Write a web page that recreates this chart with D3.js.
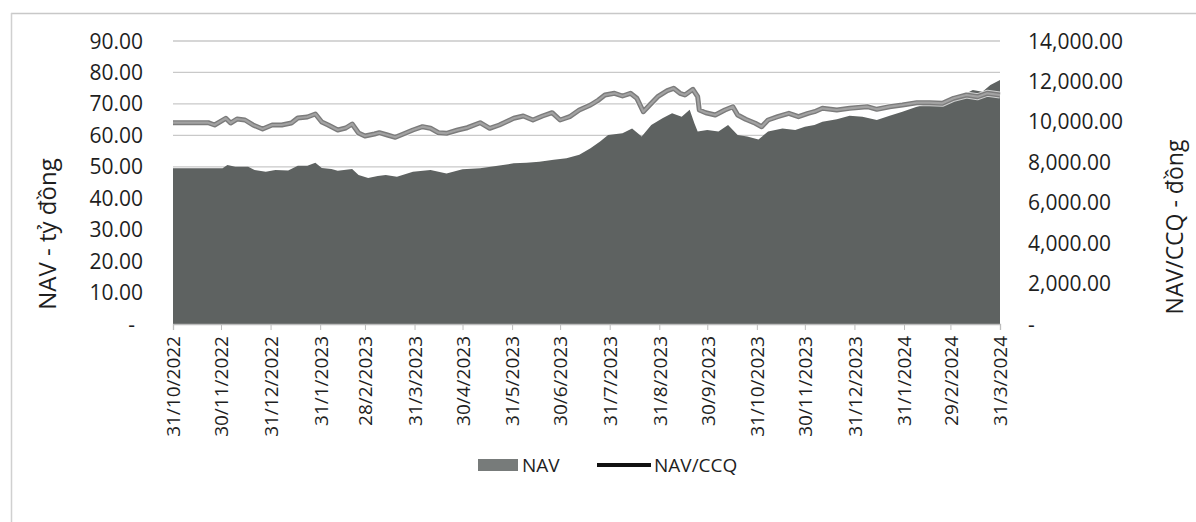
<!DOCTYPE html>
<html><head><meta charset="utf-8">
<script src="https://cdn.jsdelivr.net/npm/d3@7"></script>
<style>
body{margin:0;background:#fff;}
svg{display:block;font-family:"Open Sans",sans-serif;}
</style>
</head><body>
<svg id="c" width="1196" height="522"></svg>
<script>
const navDates = ["2022-10-31","2022-12-01","2022-12-04","2022-12-09","2022-12-17","2022-12-21","2022-12-28","2023-01-03","2023-01-11","2023-01-17","2023-01-23","2023-01-28","2023-02-01","2023-02-07","2023-02-11","2023-02-20","2023-02-24","2023-03-02","2023-03-08","2023-03-13","2023-03-20","2023-03-30","2023-04-10","2023-04-20","2023-04-30","2023-05-11","2023-05-22","2023-06-01","2023-06-09","2023-06-17","2023-06-26","2023-07-04","2023-07-12","2023-07-19","2023-07-25","2023-07-30","2023-08-08","2023-08-14","2023-08-20","2023-08-26","2023-09-02","2023-09-08","2023-09-14","2023-09-19","2023-09-22","2023-09-24","2023-09-30","2023-10-07","2023-10-13","2023-10-19","2023-10-25","2023-11-01","2023-11-07","2023-11-16","2023-11-24","2023-11-30","2023-12-06","2023-12-11","2023-12-20","2023-12-28","2024-01-05","2024-01-14","2024-01-22","2024-01-30","2024-02-08","2024-02-16","2024-02-24","2024-03-02","2024-03-08","2024-03-14","2024-03-20","2024-03-25","2024-03-31"];
const navValues = [49.5,49.5,50.6,50.0,50.0,49.0,48.4,49.0,48.8,50.3,50.3,51.3,49.6,49.3,48.7,49.3,47.4,46.4,47.1,47.4,46.8,48.4,49.0,47.9,49.2,49.5,50.3,51.1,51.3,51.6,52.2,52.7,53.8,55.9,58.0,60.1,60.7,62.2,59.6,63.3,65.4,67.0,65.9,68.1,63.8,61.2,61.7,61.2,63.3,60.1,59.6,58.7,61.2,62.2,61.7,62.7,63.3,64.3,65.1,66.2,65.9,64.9,66.2,67.5,69.1,70.2,70.7,71.8,72.8,74.4,73.9,76.0,77.6];

const ccqDates = ["2022-10-31","2022-11-22","2022-11-26","2022-12-03","2022-12-06","2022-12-10","2022-12-15","2022-12-20","2022-12-26","2023-01-01","2023-01-07","2023-01-13","2023-01-17","2023-01-23","2023-01-28","2023-02-01","2023-02-05","2023-02-11","2023-02-16","2023-02-20","2023-02-24","2023-02-28","2023-03-06","2023-03-09","2023-03-14","2023-03-19","2023-03-24","2023-03-30","2023-04-05","2023-04-10","2023-04-15","2023-04-20","2023-04-27","2023-05-03","2023-05-11","2023-05-17","2023-05-23","2023-06-01","2023-06-07","2023-06-13","2023-06-19","2023-06-25","2023-06-30","2023-07-06","2023-07-12","2023-07-19","2023-07-24","2023-07-28","2023-08-03","2023-08-08","2023-08-13","2023-08-17","2023-08-21","2023-08-25","2023-08-30","2023-09-05","2023-09-09","2023-09-13","2023-09-16","2023-09-21","2023-09-24","2023-09-25","2023-09-29","2023-10-05","2023-10-11","2023-10-16","2023-10-19","2023-10-24","2023-10-30","2023-11-03","2023-11-07","2023-11-13","2023-11-20","2023-11-26","2023-12-02","2023-12-06","2023-12-11","2023-12-20","2023-12-28","2024-01-08","2024-01-14","2024-01-22","2024-01-30","2024-02-08","2024-02-16","2024-02-24","2024-03-02","2024-03-10","2024-03-17","2024-03-23","2024-03-31"];
const ccqValues = [9960,9960,9845,10176,9943,10141,10092,9845,9647,9845,9845,9943,10190,10240,10389,9993,9845,9597,9696,9894,9449,9300,9399,9464,9350,9236,9399,9597,9761,9681,9464,9434,9597,9711,9958,9681,9845,10176,10290,10092,10290,10453,10092,10255,10587,10834,11081,11329,11413,11279,11413,11165,10503,10834,11245,11542,11660,11413,11329,11611,11245,10587,10453,10339,10587,10750,10339,10126,9929,9761,10092,10255,10423,10255,10423,10503,10671,10587,10671,10750,10621,10750,10834,10948,10948,10918,11165,11329,11245,11413,11329];

const tickDates = ["2022-10-31","2022-11-30","2022-12-31","2023-01-31","2023-02-28","2023-03-31","2023-04-30","2023-05-31","2023-06-30","2023-07-31","2023-08-31","2023-09-30","2023-10-31","2023-11-30","2023-12-31","2024-01-31","2024-02-29","2024-03-31"];
const leftTicks = [0,10,20,30,40,50,60,70,80,90];
const rightTicks = [0,2000,4000,6000,8000,10000,12000,14000];
const seriesNames = ["NAV","NAV/CCQ"];
const leftTitle = "NAV - tỷ đồng";
const rightTitle = "NAV/CCQ - đồng";

const parse = d3.timeParse("%Y-%m-%d");
const svg = d3.select("#c");
const L = 173, R = 1000, T = 41, B = 324;

const x = d3.scaleTime().domain([parse(tickDates[0]), parse(tickDates[tickDates.length-1])]).range([L, R]);
const yL = d3.scaleLinear().domain([0, 90]).range([B, T]);
const yR = d3.scaleLinear().domain([0, 14000]).range([B, T]);
const fmt = d3.format(",.2f");
const lab = v => v === 0 ? "-" : fmt(v);

// outer border (top & left visible)
svg.append("line").attr("x1",11).attr("x2",1196).attr("y1",13.5).attr("y2",13.5).attr("stroke","#c8c8c8").attr("stroke-width",1.5);
svg.append("line").attr("x1",11.5).attr("x2",11.5).attr("y1",13).attr("y2",522).attr("stroke","#d0d0d0").attr("stroke-width",1.5);

// gridlines
svg.append("g").selectAll("line").data(leftTicks.filter(d=>d>0)).join("line")
  .attr("x1",L).attr("x2",R).attr("y1",d=>yL(d)).attr("y2",d=>yL(d))
  .attr("stroke","#c9c9c9").attr("stroke-width",1.3);

// NAV area
const navData = navDates.map((d,i)=>({date:parse(d), v:navValues[i]}));
svg.append("path").datum(navData)
  .attr("d", d3.area().x(d=>x(d.date)).y0(yL(0)).y1(d=>yL(d.v)))
  .attr("fill","#5e6261");

// NAV/CCQ line
const ccqData = ccqDates.map((d,i)=>({date:parse(d), v:ccqValues[i]}));
const lineGen = d3.line().x(d=>x(d.date)).y(d=>yR(d.v));
svg.append("path").datum(ccqData).attr("d",lineGen)
  .attr("fill","none").attr("stroke","#ffffff").attr("stroke-width",7).attr("stroke-linejoin","round").attr("opacity",0.7);
svg.append("path").datum(ccqData).attr("d",lineGen)
  .attr("fill","none").attr("stroke","#7c7c7c").attr("stroke-width",5).attr("stroke-linejoin","round");
svg.append("path").datum(ccqData).attr("d",lineGen)
  .attr("fill","none").attr("stroke","#a2a2a2").attr("stroke-width",2.2).attr("stroke-linejoin","round");

// bottom axis
const xAxis = d3.axisBottom(x).tickValues(tickDates.map(parse)).tickSize(6).tickFormat(d3.timeFormat("%-d/%-m/%Y"));
const gx = svg.append("g").attr("transform",`translate(0,${B})`).call(xAxis);
gx.select(".domain").attr("stroke","#bdbdbd").attr("stroke-width",1.3);
gx.selectAll(".tick line").attr("stroke","#bdbdbd");
gx.selectAll(".tick text")
  .attr("font-family","Open Sans").attr("font-size",19).attr("fill","#1e1e1e")
  .attr("text-anchor","end").attr("transform","rotate(-90)")
  .attr("x",-12).attr("y",0).attr("dy","0.36em");

// left axis labels
svg.append("g").selectAll("text").data(leftTicks).join("text")
  .attr("x",d=>d===0?135:143).attr("y",d=>yL(d)).attr("dy","0.36em")
  .attr("text-anchor","end").attr("font-size",21).attr("fill","#1e1e1e").text(lab);
// right axis labels
svg.append("g").selectAll("text").data(rightTicks).join("text")
  .attr("x",1028).attr("y",d=>yR(d)).attr("dy","0.36em")
  .attr("text-anchor","start").attr("font-size",21).attr("fill","#1e1e1e").text(lab);

// axis titles
svg.append("text").attr("transform","translate(47,234) rotate(-90)").attr("text-anchor","middle")
  .attr("dy","0.36em").attr("font-size",24).attr("fill","#1e1e1e").text(leftTitle);
svg.append("text").attr("transform","translate(1175,227) rotate(-90)").attr("text-anchor","middle")
  .attr("dy","0.36em").attr("font-size",23).attr("fill","#1e1e1e").text(rightTitle);

// legend
const lg = svg.append("g");
lg.append("rect").attr("x",478).attr("y",459).attr("width",40).attr("height",12).attr("fill","#777b7a");
lg.append("text").attr("x",522).attr("y",465).attr("dy","0.36em").attr("font-size",19).attr("fill","#1e1e1e").text(seriesNames[0]);
lg.append("line").attr("x1",597).attr("x2",651).attr("y1",465).attr("y2",465).attr("stroke","#111").attr("stroke-width",4);
lg.append("text").attr("x",654).attr("y",465).attr("dy","0.36em").attr("font-size",19).attr("fill","#1e1e1e").text(seriesNames[1]);
</script>
</body></html>
